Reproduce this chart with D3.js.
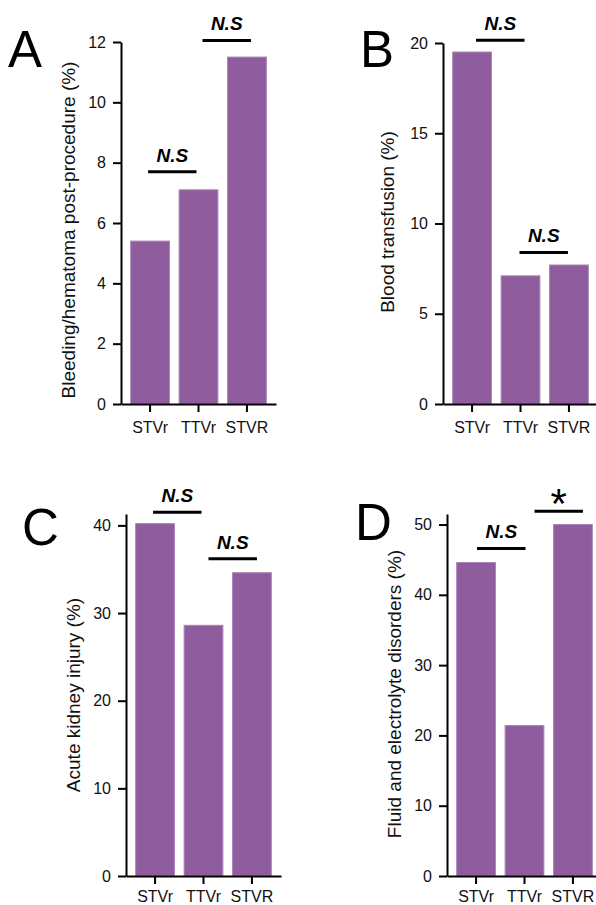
<!DOCTYPE html>
<head>
<meta charset="UTF-8">
<script src="https://cdn.jsdelivr.net/npm/d3@7"></script>
<style>
body {
  margin: 0;
  background: #fff;
}

svg {
  display: block;
}

.bar {
  fill: #8f5c9d;
  stroke: #a983b4;
  stroke-width: 1px;
}

.axis path,
.axis line {
  stroke: #000;
  stroke-width: 2px;
}

.axis text {
  font-family: Arial, "Liberation Sans", sans-serif;
  font-size: 16px;
  fill: #111;
}

.ylabel {
  font-family: Arial, "Liberation Sans", sans-serif;
  font-size: 19px;
  fill: #111;
}

.letter {
  font-family: Arial, "Liberation Sans", sans-serif;
  font-size: 51px;
  fill: #000;
}

.sig-line {
  stroke: #000;
  stroke-width: 3px;
}

.sig {
  font-family: Arial, "Liberation Sans", sans-serif;
  font-size: 19px;
  font-weight: bold;
  font-style: italic;
  fill: #000;
}

.star {
  font-family: Arial, "Liberation Sans", sans-serif;
  font-size: 42px;
  fill: #000;
}
</style>
</head>
<body>
<script>

var width  = 596,
    height = 905;

// data
var categories = ["STVr", "TTVr", "STVR"];

var bleeding    = [5.4, 7.1, 11.5];
var transfusion = [19.5, 7.1, 7.7];
var kidney      = [40.2, 28.6, 34.6];
var fluid       = [44.6, 21.4, 50.0];

var ticksA = [0, 2, 4, 6, 8, 10, 12];
var ticksB = [0, 5, 10, 15, 20];
var ticksC = [0, 10, 20, 30, 40];
var ticksD = [0, 10, 20, 30, 40, 50];

// comparisons: [from, to, height (%), label]
var sigA = [[0, 1, 7.7, "N.S"], [1, 2, 12.05, "N.S"]];
var sigB = [[0, 1, 20.15, "N.S"], [1, 2, 8.4, "N.S"]];
var sigC = [[0, 1, 41.5, "N.S"], [1, 2, 36.2, "N.S"]];
var sigD = [[0, 1, 46.6, "N.S"], [1, 2, 51.9, "*"]];

// layout of each panel (pixels)
var panels = [
  {letter: "A", title: "Bleeding/hematoma post-procedure (%)", values: bleeding, ticks: ticksA, sig: sigA,
   x0: 121, yBase: 404, yTop: 42, yMax: 12, lx: 8, ly: 67, labX: 75, labY: 230, shift: [-2, 4], pad: 10},
  {letter: "B", title: "Blood transfusion (%)", values: transfusion, ticks: ticksB, sig: sigB,
   x0: 443, yBase: 404, yTop: 43, yMax: 20, lx: 360, ly: 67, labX: 394, labY: 222, shift: [4, -1], pad: 10},
  {letter: "C", title: "Acute kidney injury (%)", values: kidney, ticks: ticksC, sig: sigC,
   x0: 126, yBase: 876, yTop: 514, yMax: 41.3, lx: 22, ly: 545, labX: 80, labY: 695, shift: [-2, 5], pad: 7},
  {letter: "D", title: "Fluid and electrolyte disorders (%)", values: fluid, ticks: ticksD, sig: sigD,
   x0: 447, yBase: 876, yTop: 514, yMax: 51.5, lx: 355, ly: 540, labX: 401, labY: 694, shift: [1, 10], pad: 7}
];

var svg = d3.select("body").append("svg")
    .attr("width", width)
    .attr("height", height);

svg.append("rect")
    .attr("width", width)
    .attr("height", height)
    .attr("fill", "#fff");

panels.forEach(function(p) {
  var g = svg.append("g");

  var x = d3.scaleBand()
      .domain(categories)
      .range([p.x0, p.x0 + 155])
      .paddingInner(0.2)
      .paddingOuter(0.2);

  var y = d3.scaleLinear()
      .domain([0, p.yMax])
      .range([p.yBase, p.yTop]);

  g.selectAll(".bar")
      .data(p.values)
    .enter().append("rect")
      .attr("class", "bar")
      .attr("x", (d, i) => x(categories[i]))
      .attr("y", d => y(d))
      .attr("width", x.bandwidth())
      .attr("height", d => y(0) - y(d));

  g.append("g")
      .attr("class", "axis")
      .attr("transform", "translate(" + p.x0 + ",0)")
      .call(d3.axisLeft(y).tickValues(p.ticks).tickSize(8).tickSizeOuter(0).tickPadding(7));

  g.append("g")
      .attr("class", "axis")
      .attr("transform", "translate(0," + p.yBase + ")")
      .call(d3.axisBottom(x).tickSize(8).tickSizeOuter(0).tickPadding(p.pad));

  g.append("text")
      .attr("class", "ylabel")
      .attr("text-anchor", "middle")
      .attr("transform", "translate(" + p.labX + "," + p.labY + ") rotate(-90)")
      .text(p.title);

  g.append("text")
      .attr("class", "letter")
      .attr("x", p.lx)
      .attr("y", p.ly)
      .text(p.letter);

  p.sig.forEach(function(s, k) {
    var cx = d => x(categories[d]) + x.bandwidth() / 2 + p.shift[k];
    var x1 = cx(s[0]), x2 = cx(s[1]), yy = y(s[2]);

    g.append("line")
        .attr("class", "sig-line")
        .attr("x1", x1)
        .attr("x2", x2)
        .attr("y1", yy)
        .attr("y2", yy);

    if (s[3] == "*") {
      g.append("text")
          .attr("class", "star")
          .attr("text-anchor", "middle")
          .attr("x", (x1 + x2) / 2)
          .attr("y", yy + 7)
          .text(s[3]);
    } else {
      g.append("text")
          .attr("class", "sig")
          .attr("text-anchor", "middle")
          .attr("x", (x1 + x2) / 2)
          .attr("y", yy - 10)
          .text(s[3]);
    }
  });
});

</script>
</body>
